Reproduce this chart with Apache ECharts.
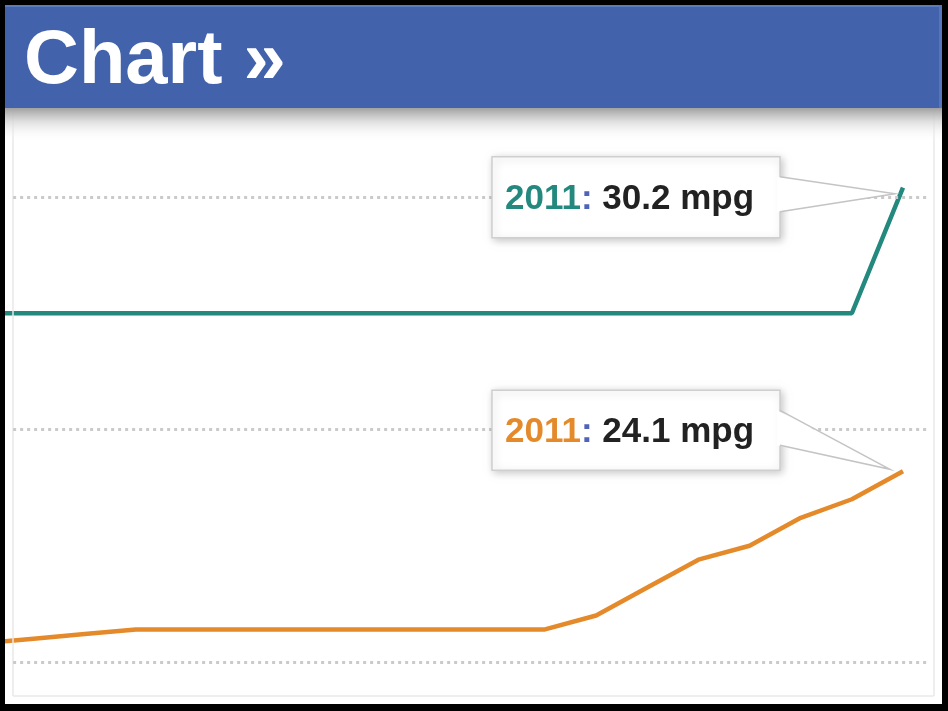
<!DOCTYPE html>
<html>
<head>
<meta charset="utf-8">
<title>Chart</title>
<script src="https://cdn.jsdelivr.net/npm/echarts@6/dist/echarts.min.js"></script>
<style>
    html, body { margin: 0; padding: 0; background: #000; }
    #main { position: absolute; left: 5px; top: 5px; width: 937px; height: 699px; background: #fff; }
</style>
</head>
<body>
<div id="main"></div>
<script>
// 年份
var years = [1993, 1994, 1995, 1996, 1997, 1998, 1999, 2000, 2001, 2002, 2003, 2004, 2005, 2006, 2007, 2008, 2009, 2010, 2011];
// 轿车 mpg
var carMpg = [27.5, 27.5, 27.5, 27.5, 27.5, 27.5, 27.5, 27.5, 27.5, 27.5, 27.5, 27.5, 27.5, 27.5, 27.5, 27.5, 27.5, 27.5, 30.2];
// 轻卡 mpg
var truckMpg = [20.4, 20.5, 20.6, 20.7, 20.7, 20.7, 20.7, 20.7, 20.7, 20.7, 20.7, 20.7, 21.0, 21.6, 22.2, 22.5, 23.1, 23.5, 24.1];
// 网格线
var gridValues = [20, 25, 30];
var titleText = 'Chart »';
var unitText = 'mpg';

var FONT = '"Liberation Sans", Arial, Helvetica, sans-serif';
var colorList = ['#23887e', '#e48a2a'];

// 坐标范围
var xMin = 1993.441, xMax = 2011.626;
var yMin = 19.247, yMax = 31.871;
var frameLeft = 1993.6, frameRight = 2011.6, frameBottom = 19.27;

var toPairs = function (xs, ys) {
    var out = [];
    for (var i = 0; i < xs.length; i++) {
        out.push([xs[i], ys[i]]);
    }
    return out;
};

var hLine = function (v, x0, x1) {
    return [{ coord: [x0, v] }, { coord: [x1, v] }];
};

var chart = echarts.init(document.getElementById('main'), null, { renderer: 'canvas' });

var option = {
    animation: false,
    title: {
        text: titleText,
        left: 14,
        top: 14,
        z: 12,
        textStyle: { color: '#fff', fontSize: 76, fontWeight: 'bold', fontFamily: FONT, lineHeight: 76 }
    },
    grid: { left: 0, right: 7, top: 105, bottom: 7, show: false },
    xAxis: {
        type: 'value', min: xMin, max: xMax,
        axisLine: { show: false }, axisTick: { show: false }, axisLabel: { show: false }, splitLine: { show: false }
    },
    yAxis: {
        type: 'value', min: yMin, max: yMax,
        axisLine: { show: false }, axisTick: { show: false }, axisLabel: { show: false }, splitLine: { show: false }
    },
    series: [
        {
            name: 'frame', type: 'line', data: [], silent: true, z: 1,
            markLine: {
                silent: true, symbol: ['none', 'none'], label: { show: false },
                lineStyle: { color: '#e8e8e8', width: 1.5, type: 'solid' },
                data: [
                    [{ coord: [frameLeft, frameBottom] }, { coord: [frameLeft, yMax] }],
                    [{ coord: [frameRight, frameBottom] }, { coord: [frameRight, yMax] }],
                    hLine(frameBottom, frameLeft, frameRight)
                ]
            }
        },
        {
            name: 'grid', type: 'line', data: [], silent: true, z: 1,
            markLine: {
                silent: true, symbol: ['none', 'none'], label: { show: false },
                lineStyle: { color: '#cacaca', width: 3, type: [3, 4] },
                data: gridValues.map(function (v) { return hLine(v, frameLeft, frameRight - 0.1); })
            }
        },
        {
            name: 'cars', type: 'line', data: toPairs(years, carMpg),
            showSymbol: false, clip: true, silent: true, z: 3,
            lineStyle: { color: colorList[0], width: 4.5 }
        },
        {
            name: 'trucks', type: 'line', data: toPairs(years, truckMpg),
            showSymbol: false, clip: true, silent: true, z: 3,
            lineStyle: { color: colorList[1], width: 4.5 }
        }
    ],
    graphic: [
        // 蓝色标题栏
        { type: 'rect', z: 10, shape: { x: 0, y: 0, width: 937, height: 103 }, style: { fill: '#4263ab' } },
        { type: 'rect', z: 10, shape: { x: 0, y: 0, width: 937, height: 2 }, style: { fill: '#5b7bc0' } },
        { type: 'rect', z: 10, shape: { x: 934, y: 0, width: 3, height: 103 }, style: { fill: '#5676bb' } },
        {
            type: 'rect', z: 10, shape: { x: 0, y: 103, width: 937, height: 34 },
            style: {
                fill: new echarts.graphic.LinearGradient(0, 0, 0, 1, [
                    { offset: 0, color: 'rgba(160,160,160,1)' },
                    { offset: 0.4, color: 'rgba(215,215,215,0.8)' },
                    { offset: 1, color: 'rgba(255,255,255,0)' }
                ])
            }
        }
    ]
};

chart.setOption(option);

// 提示框（最后一个点）
var callouts = [
    { values: carMpg, color: colorList[0], boxDy: -31, boxH: 81, tipDx: -8, tipDy: 6 },
    { values: truckMpg, color: colorList[1], boxDy: -81, boxH: 80, tipDx: -13, tipDy: -2 }
];

var extra = [];
callouts.forEach(function (c) {
    var last = years.length - 1;
    var p = chart.convertToPixel({ xAxisIndex: 0, yAxisIndex: 0 }, [years[last], c.values[last]]);
    var boxL = p[0] - 411, boxT = p[1] + c.boxDy, boxW = 288, boxR = boxL + boxW;
    var tip = [p[0] + c.tipDx, p[1] + c.tipDy];
    var b1 = [boxR, boxT + 20], b2 = [boxR, boxT + 55];
    extra.push(
        {
            type: 'rect', z: 20, shape: { x: boxL, y: boxT, width: boxW, height: c.boxH },
            style: { fill: '#fff', stroke: '#cfcfcf', lineWidth: 1.5, shadowBlur: 8, shadowColor: 'rgba(0,0,0,0.22)', shadowOffsetX: 2, shadowOffsetY: 2 }
        },
        { type: 'polygon', z: 21, shape: { points: [[b1[0] - 3, b1[1]], tip, [b2[0] - 3, b2[1]]] }, style: { fill: '#fff' } },
        { type: 'polyline', z: 22, shape: { points: [b1, tip, b2] }, style: { stroke: '#c4c4c4', lineWidth: 1.5, fill: null } },
        {
            type: 'text', z: 23,
            style: {
                x: boxL + 13, y: boxT + c.boxH / 2 + 2, verticalAlign: 'middle',
                text: '{y|' + years[last] + '}{c|:}{v|\u00a0' + c.values[last].toFixed(1) + ' ' + unitText + '}',
                rich: {
                    y: { fill: c.color, fontSize: 35, fontWeight: 'bold', fontFamily: FONT },
                    c: { fill: '#4f64b8', fontSize: 35, fontWeight: 'bold', fontFamily: FONT },
                    v: { fill: '#222', fontSize: 35, fontWeight: 'bold', fontFamily: FONT }
                }
            }
        }
    );
});

chart.setOption({ graphic: option.graphic.concat(extra) });
</script>
</body>
</html>
